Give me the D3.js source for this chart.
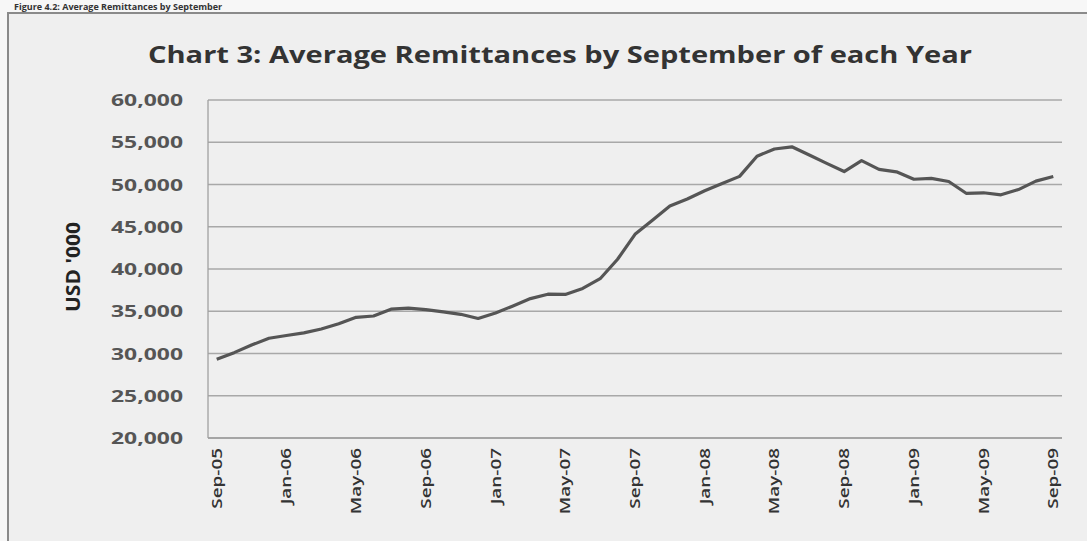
<!DOCTYPE html>
<html>
<head>
<meta charset="utf-8">
<script src="https://cdn.jsdelivr.net/npm/d3@7"></script>
<style>
  body { margin: 0; background: #f7f7f7; }
  svg { display: block; }
</style>
</head>
<body>
<div id="chart"></div>
<script>
// monthly categories, Sep-05 .. Sep-09
var months = [
    'Sep-05', 'Oct-05', 'Nov-05', 'Dec-05', 'Jan-06', 'Feb-06', 'Mar-06', 'Apr-06',
    'May-06', 'Jun-06', 'Jul-06', 'Aug-06', 'Sep-06', 'Oct-06', 'Nov-06', 'Dec-06',
    'Jan-07', 'Feb-07', 'Mar-07', 'Apr-07', 'May-07', 'Jun-07', 'Jul-07', 'Aug-07',
    'Sep-07', 'Oct-07', 'Nov-07', 'Dec-07', 'Jan-08', 'Feb-08', 'Mar-08', 'Apr-08',
    'May-08', 'Jun-08', 'Jul-08', 'Aug-08', 'Sep-08', 'Oct-08', 'Nov-08', 'Dec-08',
    'Jan-09', 'Feb-09', 'Mar-09', 'Apr-09', 'May-09', 'Jun-09', 'Jul-09', 'Aug-09',
    'Sep-09'
];

// average remittances, USD '000
var remittances = [
    29310, 30100, 31000, 31800, 32130, 32440, 32900, 33520,
    34280, 34440, 35250, 35380, 35200, 34930, 34640, 34150,
    34800, 35630, 36500, 37020, 36990, 37700, 38850, 41150,
    44100, 45780, 47450, 48280, 49260, 50130, 50960, 53350,
    54200, 54460, 53500, 52500, 51530, 52820, 51790, 51500,
    50620, 50730, 50350, 48960, 49020, 48780, 49400, 50400,
    50950
];

var xTickLabels = ['Sep-05', 'Jan-06', 'May-06', 'Sep-06', 'Jan-07', 'May-07', 'Sep-07',
    'Jan-08', 'May-08', 'Sep-08', 'Jan-09', 'May-09', 'Sep-09'];
var yTicks = [20000, 25000, 30000, 35000, 40000, 45000, 50000, 55000, 60000];

var width = 1087;
var height = 541;
var plot = { left: 208, right: 1062, top: 100, bottom: 438 };

var svg = d3.select('#chart')
    .append('svg')
    .attr('width', width)
    .attr('height', height);

// page caption above the chart frame
svg.append('text')
    .attr('x', 14)
    .attr('y', 10)
    .style('font-family', 'Open Sans, sans-serif')
    .style('font-weight', 'bold')
    .style('font-size', '9px')
    .style('fill', '#333')
    .text('Figure 4.2: Average Remittances by September');

// chart frame
svg.append('rect')
    .attr('x', 8)
    .attr('y', 13)
    .attr('width', 1100)
    .attr('height', 560)
    .style('fill', '#efefef')
    .style('stroke', '#8a8a8a')
    .style('stroke-width', 2);

svg.append('text')
    .attr('x', 560)
    .attr('y', 63)
    .attr('text-anchor', 'middle')
    .attr('textLength', 824)
    .attr('lengthAdjust', 'spacingAndGlyphs')
    .style('font-family', 'Open Sans, sans-serif')
    .style('font-weight', 'bold')
    .style('font-size', '23px')
    .style('fill', '#333')
    .text('Chart 3: Average Remittances by September of each Year');

var x = d3.scalePoint()
    .domain(months)
    .range([plot.left, plot.right])
    .padding(0.5);

var y = d3.scaleLinear()
    .domain([20000, 60000])
    .range([plot.bottom, plot.top]);

// gridlines
svg.append('g')
    .selectAll('line')
    .data(yTicks)
    .enter()
    .append('line')
    .attr('x1', plot.left)
    .attr('x2', plot.right)
    .attr('y1', function(d) { return y(d); })
    .attr('y2', function(d) { return y(d); })
    .style('stroke', function(d) { return d === 20000 ? '#8c8c8c' : '#a8a8a8'; })
    .style('stroke-width', 1.3);

svg.append('line')
    .attr('x1', plot.left)
    .attr('x2', plot.left)
    .attr('y1', plot.top)
    .attr('y2', plot.bottom)
    .style('stroke', '#a0a0a0')
    .style('stroke-width', 1.3);

// y axis labels
var fmt = d3.format(',');
svg.append('g')
    .selectAll('text')
    .data(yTicks)
    .enter()
    .append('text')
    .attr('x', 183)
    .attr('y', function(d) { return y(d) + 6; })
    .attr('text-anchor', 'end')
    .attr('textLength', 72)
    .attr('lengthAdjust', 'spacingAndGlyphs')
    .style('font-family', 'Open Sans, sans-serif')
    .style('font-weight', 'bold')
    .style('font-size', '16px')
    .style('fill', '#555')
    .text(function(d) { return fmt(d); });

svg.append('text')
    .attr('transform', 'translate(80,267) rotate(-90)')
    .attr('text-anchor', 'middle')
    .attr('textLength', 90)
    .attr('lengthAdjust', 'spacingAndGlyphs')
    .style('font-family', 'Open Sans, sans-serif')
    .style('font-weight', 'bold')
    .style('font-size', '19px')
    .style('fill', '#222')
    .text("USD '000");

// x axis labels, rotated
svg.append('g')
    .selectAll('text')
    .data(xTickLabels)
    .enter()
    .append('text')
    .attr('transform', function(d) {
        return 'translate(' + (x(d) + 5) + ',448) rotate(-90) scale(1.35,1)';
    })
    .attr('text-anchor', 'end')
    .style('font-family', 'Open Sans, sans-serif')
    .style('font-size', '14px')
    .style('font-weight', 600)
    .style('fill', '#333')
    .text(function(d) { return d; });

// the series line
var line = d3.line()
    .x(function(d, i) { return x(months[i]); })
    .y(function(d) { return y(d); });

svg.append('path')
    .datum(remittances)
    .attr('d', line)
    .style('fill', 'none')
    .style('stroke', '#555')
    .style('stroke-width', 3.2)
    .style('stroke-linejoin', 'round');
</script>
</body>
</html>
